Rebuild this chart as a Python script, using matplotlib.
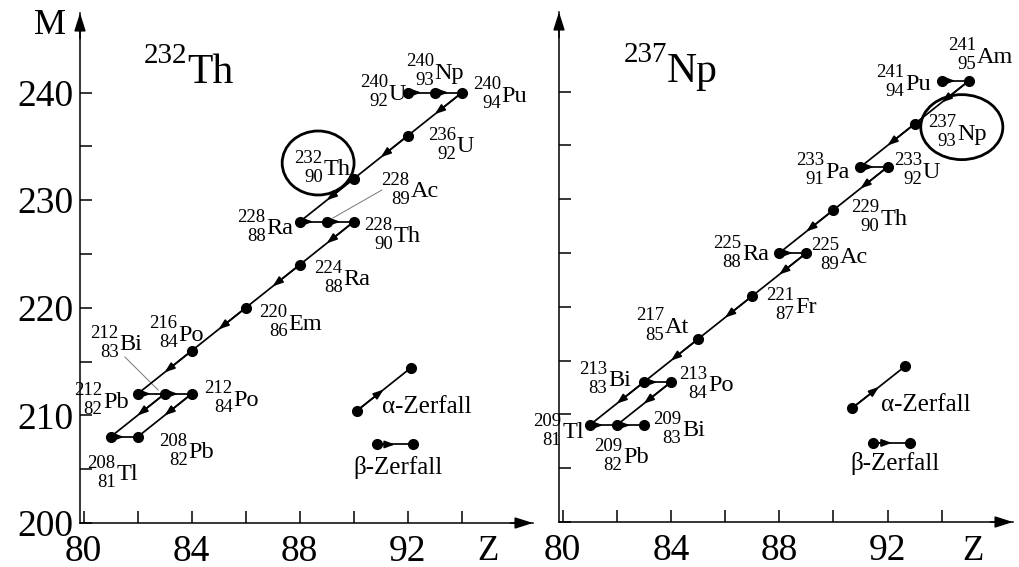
import numpy as np
import matplotlib.pyplot as plt
from matplotlib.patches import Ellipse

plt.rcParams['font.family'] = ['Liberation Serif', 'DejaVu Serif']

# --- 232Th chain (left panel) ---
th_sym = ['U', 'Np', 'Pu', 'U', 'Th', 'Ra', 'Ac', 'Th', 'Ra', 'Em', 'Po', 'Pb', 'Bi', 'Po', 'Tl', 'Pb']
th_A = [240, 240, 240, 236, 232, 228, 228, 228, 224, 220, 216, 212, 212, 212, 208, 208]
th_Z = [92, 93, 94, 92, 90, 88, 89, 90, 88, 86, 84, 82, 83, 84, 81, 82]
th_decays = [('240U', '240Np'), ('240Np', '240Pu'), ('240Pu', '236U'), ('236U', '232Th'),
             ('232Th', '228Ra'), ('228Ra', '228Ac'), ('228Ac', '228Th'), ('228Th', '224Ra'),
             ('224Ra', '220Em'), ('220Em', '216Po'), ('216Po', '212Pb'), ('212Pb', '212Bi'),
             ('212Bi', '212Po'), ('212Bi', '208Tl'), ('212Po', '208Pb'), ('208Tl', '208Pb')]

# --- 237Np chain (right panel) ---
np_sym = ['Pu', 'Am', 'Np', 'Pa', 'U', 'Th', 'Ra', 'Ac', 'Fr', 'At', 'Bi', 'Po', 'Tl', 'Pb', 'Bi']
np_A = [241, 241, 237, 233, 233, 229, 225, 225, 221, 217, 213, 213, 209, 209, 209]
np_Z = [94, 95, 93, 91, 92, 90, 88, 89, 87, 85, 83, 84, 81, 82, 83]
np_decays = [('241Pu', '241Am'), ('241Am', '237Np'), ('237Np', '233Pa'), ('233Pa', '233U'),
             ('233U', '229Th'), ('229Th', '225Ra'), ('225Ra', '225Ac'), ('225Ac', '221Fr'),
             ('221Fr', '217At'), ('217At', '213Bi'), ('213Bi', '213Po'), ('213Bi', '209Tl'),
             ('213Po', '209Pb'), ('209Tl', '209Pb'), ('209Pb', '209Bi')]

# label offsets from the nuclide (dZ, dM), layout only
th_lab = {'240U': (-0.74, 0.1), '240Np': (-0.04, 2.05), '240Pu': (1.44, -0.1), '236U': (1.78, -0.76),
          '232Th': (-1.15, 1.1), '228Ac': (3.07, 3.05), '228Ra': (-1.26, -0.4), '228Th': (1.44, -1.15),
          '224Ra': (1.59, -1.16), '220Em': (1.55, -1.26), '216Po': (-0.52, 1.7), '212Bi': (-1.7, 4.8),
          '212Pb': (-1.3, -0.53), '212Po': (1.52, -0.34), '208Pb': (1.85, -1.2), '208Tl': (0.19, -3.25)}
np_lab = {'241Pu': (-1.38, -0.07), '241Am': (0.28, 2.44), '237Np': (1.54, -0.72), '233Pa': (-1.33, -0.26),
          '233U': (1.28, -0.26), '229Th': (1.7, -0.63), '225Ra': (-1.4, 0.1), '225Ac': (1.22, -0.16),
          '221Fr': (1.56, -0.81), '217At': (-1.24, 1.33), '213Bi': (-1.34, 0.4), '213Po': (1.35, -0.07),
          '209Tl': (-1.04, -0.44), '209Pb': (0.21, -2.77), '209Bi': (1.39, -0.26)}

th_leaders = [((91.04, 230.95), (89.23, 228.35)), ((81.53, 215.43), (82.76, 212.36))]

# legend samples (Z, M)
th_alpha_key = ([90.1, 92.1], [210.4, 214.4])
th_beta_key = ([90.85, 92.2], [207.3, 207.3])
np_alpha_key = ([90.7, 92.66], [210.6, 214.5])
np_beta_key = ([91.48, 92.84], [207.35, 207.35])

W, H = 1019, 567
fig = plt.figure(figsize=(W / 100, H / 100), dpi=100)
axL = fig.add_axes([80 / W, 44 / H, 453 / W, 510 / H])
axR = fig.add_axes([559 / W, 45 / H, 454 / W, 510 / H])


def decay(ax, z0, a0, z1, a1):
    ax.plot([z0, z1], [a0, a1], color='k', lw=1.25, zorder=2)
    mid = ((z0 + z1) / 2, (a0 + a1) / 2)
    ax.annotate('', xy=mid, xytext=(z0, a0),
                arrowprops=dict(arrowstyle='-|>,head_length=0.6,head_width=0.22', mutation_scale=10,
                                color='k', lw=1.25, shrinkA=0, shrinkB=0), zorder=3)


def label(ax, x, y, A, Z, sym):
    ax.annotate(sym, (x, y), xytext=(0.5, -5.9), textcoords='offset points',
                ha='left', va='baseline', fontsize=17.5)
    ax.annotate(str(A), (x, y), xytext=(0, 3.1), textcoords='offset points',
                ha='right', va='baseline', fontsize=13.5)
    ax.annotate(str(Z), (x, y), xytext=(0, -10.6), textcoords='offset points',
                ha='right', va='baseline', fontsize=13.5)


def panel(ax, sym, A, Z, decays, labs, title_A, title_sym, akey, bkey, alab, blab, left):
    ax.set_xlim(79.87, 96.63)
    ax.set_ylim(200, 247.4)
    for s in ['top', 'right']:
        ax.spines[s].set_visible(False)
    for s in ['left', 'bottom']:
        ax.spines[s].set_linewidth(1.1)
    for xy0, xy1 in [((0.95, 0), (1, 0)), ((0, 0.95), (0, 1))]:
        ax.annotate('', xy=xy1, xycoords='axes fraction', xytext=xy0, textcoords='axes fraction',
                    arrowprops=dict(arrowstyle='-|>,head_length=1.1,head_width=0.35', mutation_scale=10,
                                    color='k', lw=1.1, shrinkA=0, shrinkB=0))
    ax.set_xticks([80, 84, 88, 92])
    ax.set_xticks([82, 86, 90, 94], minor=True)
    ax.set_yticks([200, 210, 220, 230, 240])
    ax.set_yticks([205, 215, 225, 235], minor=True)
    ax.tick_params(which='both', direction='in', length=8.5, width=1.1, labelsize=27)
    ax.tick_params(axis='x', pad=8)
    ax.tick_params(axis='y', pad=5, labelleft=left)

    keys = [str(a) + s for a, s in zip(A, sym)]
    pos = {k: (z, a) for k, z, a in zip(keys, Z, A)}
    for p, d in decays:
        decay(ax, pos[p][0], pos[p][1], pos[d][0], pos[d][1])
    ax.plot(Z, A, 'o', color='k', ms=7, zorder=4)
    for k, z, a, s in zip(keys, Z, A, sym):
        dz, dm = labs[k]
        label(ax, z + dz, a + dm, a, z, s)

    # title
    ax.annotate(title_sym, (83.85, 240.9), ha='left', va='baseline', fontsize=30)
    ax.annotate(str(title_A), (83.85, 240.9), xytext=(0, 14.4), textcoords='offset points',
                ha='right', va='baseline', fontsize=21)

    # legend
    decay(ax, akey[0][0], akey[1][0], akey[0][1], akey[1][1])
    ax.plot(akey[0], akey[1], 'o', color='k', ms=7, zorder=4)
    decay(ax, bkey[0][0], bkey[1][0], bkey[0][1], bkey[1][1])
    ax.plot(bkey[0], bkey[1], 'o', color='k', ms=7, zorder=4)
    ax.text(alab[0], alab[1], 'α-Zerfall', ha='left', va='center', fontsize=18)
    ax.text(blab[0], blab[1], 'β-Zerfall', ha='left', va='center', fontsize=18)


panel(axL, th_sym, th_A, th_Z, th_decays, th_lab, 232, 'Th', th_alpha_key, th_beta_key,
      (91.04, 210.8), (89.97, 205.2), True)
panel(axR, np_sym, np_A, np_Z, np_decays, np_lab, 237, 'Np', np_alpha_key, np_beta_key,
      (91.75, 210.9), (90.64, 205.4), False)

for (x0, y0), (x1, y1) in th_leaders:
    axL.plot([x0, x1], [y0, y1], color='#777777', lw=0.7, zorder=1)

axL.add_patch(Ellipse((88.68, 233.46), 2.66, 5.95, fill=False, lw=2.0, color='k', zorder=5))
axR.add_patch(Ellipse((94.74, 236.7), 3.03, 6.04, fill=False, lw=2.0, color='k', zorder=5))

fig.text(50 / W, 1 - 26 / H, 'M', ha='center', va='center', fontsize=26)
fig.text(488 / W, 1 - 551 / H, 'Z', ha='center', va='center', fontsize=25)
fig.text(973 / W, 1 - 551 / H, 'Z', ha='center', va='center', fontsize=25)

fig.savefig('out.png', dpi=100)
